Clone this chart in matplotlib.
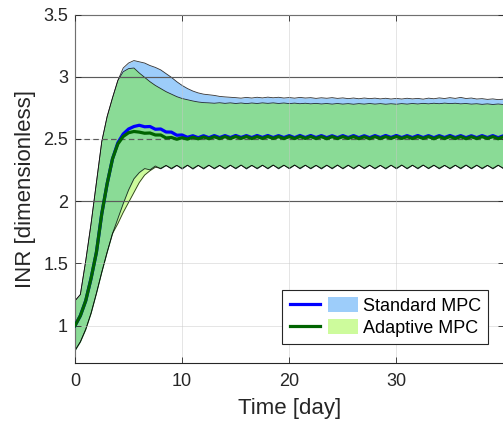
import numpy as np
import matplotlib
matplotlib.use("Agg")
import matplotlib.pyplot as plt
from matplotlib.lines import Line2D
from matplotlib.patches import Patch
from matplotlib.legend_handler import HandlerTuple

# Simulated INR trajectories sampled every half day over 40 days
days = np.arange(0, 40.5, 0.5)

std_upper = [
    1.20, 1.25, 1.52, 1.82, 2.15, 2.48, 2.68, 2.83, 2.97, 3.07,
    3.11, 3.13, 3.12, 3.11, 3.09, 3.075, 3.055, 3.025, 2.995, 2.96,
    2.93, 2.905, 2.885, 2.87, 2.86, 2.855, 2.85, 2.842, 2.838, 2.835,
    2.832, 2.828, 2.834, 2.829, 2.835, 2.830, 2.836, 2.831, 2.835, 2.829,
    2.833, 2.828, 2.834, 2.829, 2.832, 2.826, 2.831, 2.827, 2.832, 2.826,
    2.830, 2.824, 2.829, 2.823, 2.829, 2.824, 2.828, 2.822, 2.827, 2.821,
    2.826, 2.821, 2.827, 2.822, 2.826, 2.820, 2.828, 2.823, 2.830, 2.825,
    2.832, 2.826, 2.834, 2.825, 2.829, 2.821, 2.824, 2.818, 2.822, 2.816,
    2.820,
]
std_mean = [
    1.00, 1.08, 1.20, 1.38, 1.59, 1.90, 2.14, 2.34, 2.47, 2.54,
    2.58, 2.60, 2.61, 2.598, 2.60, 2.578, 2.58, 2.556, 2.555, 2.530,
    2.532, 2.513, 2.526, 2.510, 2.526, 2.510, 2.527, 2.511, 2.527, 2.511,
    2.528, 2.512, 2.527, 2.511, 2.528, 2.512, 2.528, 2.511, 2.527, 2.511,
    2.527, 2.510, 2.528, 2.511, 2.528, 2.511, 2.527, 2.510, 2.526, 2.510,
    2.527, 2.511, 2.527, 2.510, 2.526, 2.510, 2.527, 2.511, 2.528, 2.512,
    2.528, 2.511, 2.527, 2.511, 2.528, 2.511, 2.527, 2.510, 2.527, 2.511,
    2.528, 2.511, 2.527, 2.510, 2.526, 2.510, 2.527, 2.511, 2.527, 2.510,
    2.526,
]
std_lower = [
    0.80, 0.87, 0.97, 1.10, 1.26, 1.43, 1.59, 1.74, 1.86, 1.98,
    2.09, 2.18, 2.23, 2.262, 2.252, 2.283, 2.260, 2.287, 2.259, 2.288,
    2.258, 2.289, 2.258, 2.288, 2.259, 2.289, 2.260, 2.288, 2.259, 2.289,
    2.260, 2.290, 2.259, 2.288, 2.260, 2.289, 2.260, 2.290, 2.260, 2.289,
    2.261, 2.290, 2.260, 2.289, 2.260, 2.288, 2.259, 2.289, 2.260, 2.290,
    2.260, 2.289, 2.260, 2.290, 2.261, 2.289, 2.260, 2.288, 2.259, 2.289,
    2.260, 2.290, 2.260, 2.289, 2.260, 2.290, 2.261, 2.289, 2.260, 2.288,
    2.260, 2.289, 2.260, 2.290, 2.260, 2.289, 2.260, 2.288, 2.260, 2.289,
    2.260,
]

ada_upper = [
    1.20, 1.25, 1.52, 1.82, 2.15, 2.48, 2.68, 2.83, 2.97, 3.04,
    3.065, 3.07, 3.03, 2.995, 2.96, 2.93, 2.905, 2.88, 2.86, 2.84,
    2.825, 2.815, 2.805, 2.797, 2.792, 2.790, 2.787, 2.791, 2.786, 2.790,
    2.785, 2.789, 2.784, 2.789, 2.785, 2.790, 2.786, 2.790, 2.785, 2.789,
    2.784, 2.788, 2.783, 2.787, 2.782, 2.786, 2.781, 2.785, 2.780, 2.785,
    2.780, 2.784, 2.779, 2.784, 2.780, 2.785, 2.780, 2.784, 2.779, 2.783,
    2.779, 2.784, 2.780, 2.785, 2.781, 2.786, 2.782, 2.787, 2.783, 2.788,
    2.784, 2.787, 2.782, 2.785, 2.780, 2.783, 2.778, 2.782, 2.777, 2.781,
    2.777,
]
ada_mean = [
    1.00, 1.08, 1.20, 1.38, 1.59, 1.90, 2.14, 2.34, 2.46, 2.52,
    2.55, 2.56, 2.555, 2.546, 2.548, 2.532, 2.532, 2.508, 2.512, 2.498,
    2.510, 2.499, 2.514, 2.501, 2.516, 2.502, 2.518, 2.503, 2.519, 2.503,
    2.520, 2.504, 2.520, 2.503, 2.519, 2.504, 2.520, 2.504, 2.519, 2.503,
    2.519, 2.503, 2.520, 2.504, 2.520, 2.503, 2.519, 2.502, 2.519, 2.503,
    2.519, 2.504, 2.519, 2.502, 2.518, 2.502, 2.519, 2.503, 2.519, 2.504,
    2.520, 2.504, 2.519, 2.503, 2.519, 2.504, 2.519, 2.502, 2.519, 2.503,
    2.520, 2.503, 2.519, 2.502, 2.518, 2.503, 2.519, 2.504, 2.519, 2.502,
    2.518,
]
ada_lower = [
    0.80, 0.87, 0.97, 1.10, 1.26, 1.43, 1.59, 1.74, 1.82, 1.91,
    1.99, 2.07, 2.15, 2.21, 2.245, 2.273, 2.264, 2.287, 2.264, 2.288,
    2.264, 2.289, 2.263, 2.288, 2.264, 2.289, 2.264, 2.288, 2.264, 2.289,
    2.265, 2.290, 2.264, 2.288, 2.265, 2.289, 2.264, 2.290, 2.265, 2.289,
    2.265, 2.290, 2.265, 2.289, 2.264, 2.288, 2.264, 2.289, 2.265, 2.290,
    2.264, 2.289, 2.265, 2.290, 2.265, 2.289, 2.264, 2.288, 2.264, 2.289,
    2.265, 2.290, 2.264, 2.289, 2.265, 2.290, 2.265, 2.289, 2.265, 2.288,
    2.264, 2.289, 2.265, 2.290, 2.264, 2.289, 2.265, 2.288, 2.264, 2.289,
    2.265,
]

target_low, target_mid, target_high = 2.0, 2.5, 3.0
series_labels = ["Standard MPC", "Adaptive MPC"]
x_ticks = [0, 10, 20, 30]
y_ticks = [1, 1.5, 2, 2.5, 3, 3.5]

# colours
std_fill = "#9DCDFA"
ada_fill = "#CDFB9C"
both_fill = "#8ADB96"
std_line = "#0000FF"
ada_line = "#006400"
ink = "#262626"

plt.rcParams["font.family"] = ["Liberation Sans", "DejaVu Sans"]

fig = plt.figure(figsize=(5.03, 4.26), dpi=100)
ax = fig.add_axes([75 / 503, 63 / 426, 428.5 / 503, 348.5 / 426])

su, sl = np.array(std_upper), np.array(std_lower)
au, al = np.array(ada_upper), np.array(ada_lower)

# uncertainty bands: standard, adaptive, and where they overlap
ax.fill_between(days, sl, su, color=std_fill, lw=0, zorder=1)
ax.fill_between(days, al, au, color=ada_fill, lw=0, zorder=1.1)
ax.fill_between(days, np.maximum(sl, al), np.minimum(su, au),
                where=np.minimum(su, au) > np.maximum(sl, al),
                color=both_fill, lw=0, zorder=1.2)
for edge in (su, sl, au, al):
    ax.plot(days, edge, color="black", lw=0.6, alpha=0.8, zorder=1.5)

ax.grid(True, color="#c8c8c8", lw=0.6, alpha=0.55, zorder=1.6)
ax.set_axisbelow(False)

# therapeutic range
ax.axhline(target_low, color="black", lw=0.8, zorder=1.7)
ax.axhline(target_high, color="black", lw=0.8, zorder=1.7)
ax.axhline(target_mid, color="black", lw=0.8, ls=(0, (5, 3)), zorder=1.7)

ax.plot(days, std_mean, color=std_line, lw=2.3, zorder=3)
ax.plot(days, ada_mean, color=ada_line, lw=2.3, zorder=3.1)

ax.set_xlim(0, 40)
ax.set_ylim(0.7, 3.5)
ax.set_xticks(x_ticks)
ax.set_yticks(y_ticks)
ax.set_yticklabels([f"{v:g}" for v in y_ticks])
ax.tick_params(direction="in", length=4, width=0.6, color=ink,
               labelcolor=ink, labelsize=13, top=True, right=True)
ax.tick_params(axis="x", pad=7)
ax.tick_params(axis="y", pad=5)
for s in ax.spines.values():
    s.set_color(ink)
    s.set_linewidth(0.8)

ax.set_xlabel("Time [day]", fontsize=16, color=ink)
ax.set_ylabel("INR [dimensionless]", fontsize=16, color=ink)
ax.xaxis.set_label_coords(0.5, -0.1)
ax.yaxis.set_label_coords(-0.09, 0.5)

handles = [
    (Line2D([], [], color=std_line, lw=2.3), Patch(facecolor=std_fill, lw=0)),
    (Line2D([], [], color=ada_line, lw=2.3), Patch(facecolor=ada_fill, lw=0)),
]
leg = ax.legend(handles, series_labels,
                handler_map={tuple: HandlerTuple(ndivide=None, pad=0.45)},
                loc="lower right", bbox_to_anchor=(0.964, 0.0545),
                borderaxespad=0, fontsize=13, handlelength=3.8,
                handleheight=0.85, handletextpad=0.25, labelspacing=0.25,
                borderpad=0.4, fancybox=False, framealpha=1,
                edgecolor=ink)
leg.get_frame().set_linewidth(0.8)
leg.set_zorder(5)

fig.savefig("out.png", dpi=100)
